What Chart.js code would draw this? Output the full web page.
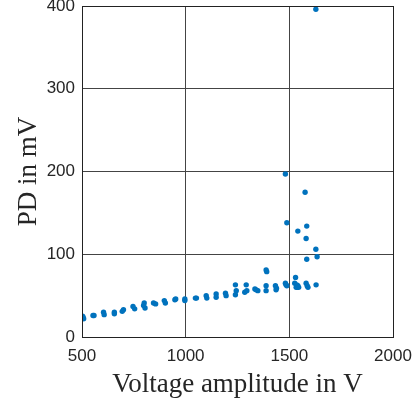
<!DOCTYPE html>
<html><head><meta charset="utf-8">
<script src="https://cdn.jsdelivr.net/npm/chart.js@4"></script>
<style>html,body{margin:0;padding:0;background:#fff}#wrap{width:417px;height:404px}</style>
</head><body><div id="wrap"><canvas id="c"></canvas></div>
<script>
const voltage = [503,508,505,553,558,604,607,656,656,700,694,746,754,800,804,797,845,855,897,902,948,952,996,996,1047,1052,1099,1102,1147,1147,1192,1195,1240,1244,1240,1292,1285,1295,1334,1348,1340,1388,1391,1388,1388,1433,1436,1438,1481,1481,1484,1488,1488,1530,1526,1533,1541,1536,1538,1545,1541,1576,1584,1581,1584,1581,1590,1586,1628,1628,1634,1629];
const pd = [25,22,24,26,26,30,27,30,28,33,31,37,34,41,35,38,41,40,44,41,45,46,46,44,47,47,50,47,52,48,53,50,63,56,51,63,54,56,58,56,57,81,79,62,56,62,57,59,197,65,63,62,138,72,65,60,62,63,60,60,128,175,134,119,94,65,60,62,396,106,97,63];
const xTicks = [500,1000,1500,2000];
const yTicks = [0,100,200,300,400];

const points = voltage.map((v,i)=>({x:v,y:pd[i]}));
new Chart(document.getElementById('c'), {
  type:'scatter',
  data:{datasets:[{data:points,backgroundColor:'#0072BD',borderWidth:0,pointRadius:2.7,pointHoverRadius:2.7}]},
  options:{
    responsive:true,maintainAspectRatio:false,animation:false,
    plugins:{legend:{display:false},tooltip:{enabled:false}},
    layout:{padding:{top:6,right:24,left:0,bottom:0}},
    scales:{
      x:{type:'linear',min:500,max:2000,
        afterBuildTicks:s=>{s.ticks=xTicks.map(v=>({value:v}));},
        afterFit:s=>{s.height=67;s.paddingLeft=0;s.paddingRight=0;},
        grid:{color:'#444',lineWidth:1,drawTicks:false},
        border:{color:'#222',width:1},
        ticks:{padding:9,color:'#262626',maxRotation:0,callback:v=>String(v),font:{family:'Liberation Sans',size:17}},
        title:{display:true,text:'Voltage amplitude in V',color:'#262626',padding:{top:2,bottom:3},font:{family:'Liberation Serif',size:27}}
      },
      y:{type:'linear',min:0,max:400,
        afterBuildTicks:s=>{s.ticks=yTicks.map(v=>({value:v}));},
        afterFit:s=>{s.width=82;s.paddingTop=0;s.paddingBottom=0;},
        grid:{color:'#444',lineWidth:1,drawTicks:false},
        border:{color:'#222',width:1},
        ticks:{padding:7,color:'#262626',callback:v=>String(v),font:{family:'Liberation Sans',size:17}},
        title:{display:true,text:'PD in mV',color:'#262626',padding:{top:13,bottom:0},font:{family:'Liberation Serif',size:27}}
      }
    }
  },
  plugins:[{id:'box',afterDraw(c){const a=c.chartArea,x=c.ctx;x.save();x.strokeStyle='#222';x.lineWidth=1;x.strokeRect(Math.round(a.left)+0.5,Math.round(a.top)+0.5,Math.round(a.right-a.left),Math.round(a.bottom-a.top));x.restore();}}]
});
</script></body></html>
